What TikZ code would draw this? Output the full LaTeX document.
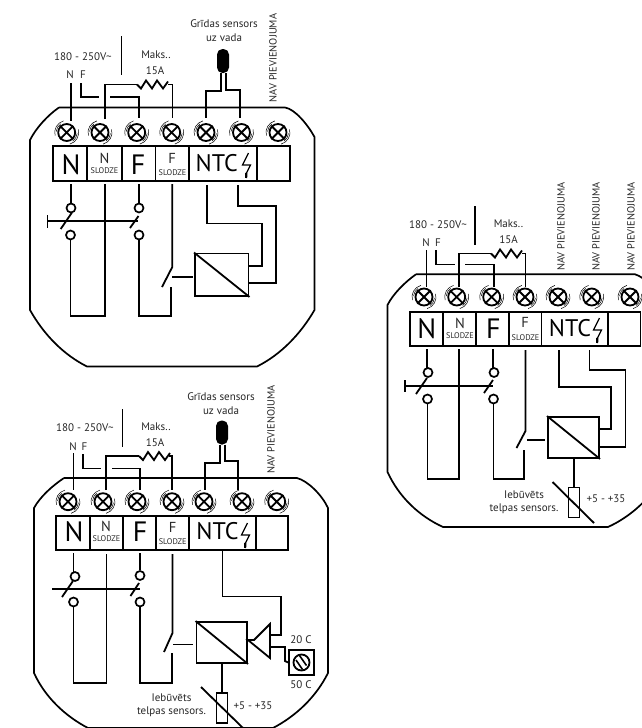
\documentclass[tikz,border=0pt]{standalone}
\usepackage{fontspec}
\setmainfont{PT Sans}
\tikzset{
  wire/.style={line width=1.8pt,line join=miter},
  shell/.style={line width=1.7pt},
  txt/.style={inner sep=0pt,font=\fontsize{11}{13}\selectfont,text=black!85},
  navtxt/.style={inner sep=0pt,rotate=90,font=\fontsize{10.4}{12}\selectfont,text=black!85},
  bigl/.style={inner sep=0pt,font=\fontsize{28}{30}\selectfont},
  ntcl/.style={inner sep=0pt,font=\fontsize{24}{26}\selectfont},
  midl/.style={inner sep=0pt,font=\fontsize{14.5}{16}\selectfont,text=black!85},
  sll/.style={inner sep=0pt,font=\fontsize{8.2}{10}\selectfont,text=black!85},
  screwn/.style={circle,draw,line width=1.8pt,minimum size=17pt,inner sep=0pt},
  contact/.style={circle,draw,line width=1.7pt,minimum size=9pt,inner sep=0pt},
  relay/.style={draw,line width=1.9pt,inner sep=0pt},
  capsule/.style={fill=black,rounded corners=5.5pt,minimum width=12pt,minimum height=24pt,inner sep=0pt},
  sens/.style={draw,line width=1.9pt,fill=white,inner sep=0pt,minimum width=11pt,minimum height=30pt}
}
\newcommand{\screwat}[3]{%
  \node[screwn] (#1) at (#2,#3) {};
  \draw[line width=1.8pt] (#1.45)--(#1.225) (#1.135)--(#1.315);
  \draw[line width=.5pt] (#1.center) ++(105:12pt) arc[start angle=105,end angle=195,radius=12pt];
  \draw[line width=.5pt] (#1.center) ++(285:12pt) arc[start angle=285,end angle=375,radius=12pt];
  \draw[line width=.5pt] (#1.center) ++(125:10.5pt) arc[start angle=125,end angle=175,radius=10.5pt];
  \draw[line width=.5pt] (#1.center) ++(305:10.5pt) arc[start angle=305,end angle=355,radius=10.5pt];
}
\newcommand{\bolt}[2]{%
  \draw[line width=1.2pt] (#1+3,#2) -- (#1-3,#2+12) -- (#1+5,#2+12) -- (#1+.5,#2+21);
  \draw[line width=2.2pt] (#1+.8,#2+20) -- (#1+.6,#2+25);
}
\newcommand{\zigzag}[2]{%
  \draw[wire] (#1,#2) -- (#1+4,#2+4) -- (#1+9,#2-4) -- (#1+15,#2+4) -- (#1+20,#2-4) -- (#1+26,#2+4) -- (#1+31,#2-3);
}
\begin{document}
\begin{tikzpicture}[x=1pt,y=-1pt]
\useasboundingbox (0,0) rectangle (642,728);
\clip (0,0) rectangle (642,728);

%% ---------- UNIT 1 ----------
\draw[shell] (59,107.5) -- (285,107.5) .. controls (295,109) and (308,125) .. (314.5,137) -- (314.5,310)
  .. controls (300,335) and (280,355) .. (257,366.5) -- (87,366.5)
  .. controls (64,355) and (44,335) .. (30,310) -- (30,140) .. controls (36,128) and (48,115) .. (59,107.5);
\screwat{a1}{66.7}{132.5}\screwat{a2}{100}{132.5}\screwat{a3}{136.7}{132.5}\screwat{a4}{171.7}{132.5}
\screwat{a5}{206}{132.5}\screwat{a6}{241.5}{132.5}\screwat{a7}{278}{132.5}
\draw[wire] (53,146) rectangle (290,181);
\foreach \x in {87,122,155.5,189,257} \draw[wire] (\x,146) -- (\x,181);
\node[bigl] (aN) at (71,164.5) {N};
\node[midl] (aNs) at (104.5,158) {N};
\node[sll] (aNss) at (104.5,170.5) {SLODZE};
\node[bigl] (aF) at (138,164.5) {F};
\node[midl] (aFs) at (172,158) {F};
\node[sll] (aFss) at (172.5,173) {SLODZE};
\node[ntcl] (aT) at (216.7,163) {NTC};
\bolt{245.5}{153}
\node[txt] (a180) at (83,57) {180 - 250V\textasciitilde};
\node[txt] (aln) at (70,75) {N};
\node[txt] (alf) at (83,75) {F};
\node[txt] (amax) at (156,55) {Maks..};
\node[txt] (a15) at (155,71) {15A};
\node[txt] (agr) at (224,24) {Grīdas sensors};
\node[txt] (auz) at (224,38) {uz vada};
\node[navtxt] (anav) at (273,58) {NAV PIEVIENOJUMA};
\node[capsule] (acap) at (223,61) {};
\draw[wire] (121.5,36) -- (121.5,75);
\draw[wire] (71,83) -- (71,121);
\draw[wire] (81,83) -- (81,97) -- (99,97);
\draw[wire] (110,97) -- (139,97) -- (139,118);
\draw[wire] (105,119) -- (105,84.5) -- (137,84.5);
\zigzag{137}{84.5}
\draw[wire] (168,84.5) -- (172.5,84.5) -- (172.5,118);
\draw[wire] ([xshift=-2pt]acap.south) -- (221,91) -- (206,91) -- (206,118);
\draw[wire] ([xshift=3pt]acap.south) -- (226,90) -- (240,90) -- (240,118);
\node[contact] (ac1) at (71,208) {};
\node[contact] (ac2) at (70.5,235) {};
\node[contact] (ac3) at (139,208) {};
\node[contact] (ac4) at (139,235) {};
\draw[wire] (71,184) -- (ac1.north);
\draw[wire] (139,184) -- (ac3.north);
\draw[wire] (ac2.south) -- (70.5,316) -- (105,316) -- (105,184);
\draw[wire] (ac4.south) -- (139,316) -- (171,316) -- (171,287);
\draw[wire] (60.7,229) -- (72,212.5);
\draw[wire] (130,228) -- (138.5,216);
\draw[wire] (47.5,215) -- (47.5,228);
\draw[wire] (47.5,221) -- (138,221);
\draw[wire] (172.3,184) -- (172.3,267) -- (162,287);
\draw[wire] (172,277) -- (193,277);
\node[relay,minimum width=53.5pt,minimum height=42.5pt] (arel) at (221.75,274.75) {};
\draw[wire] (arel.north west) -- (arel.south east);
\draw[wire] (207,185) -- (207,223.5) -- (262,223.5) -- (262,266) -- (arel.east |- 0,266);
\draw[wire] (238,185) -- (238,206) -- (276,206) -- (276,283) -- (arel.east |- 0,283);

%% ---------- UNIT 2 ----------
\draw[shell] (64,478) -- (297,478) .. controls (308,481) and (322,495) .. (328,508) -- (328,673)
  .. controls (316,697) and (296,716) .. (273,728) -- (88,728)
  .. controls (65,716) and (45,697) .. (34,673) -- (34,508) .. controls (40,497) and (52,486) .. (64,478);
\screwat{b1}{68}{501.7}\screwat{b2}{103}{501.7}\screwat{b3}{137}{501.7}\screwat{b4}{172}{501.7}
\screwat{b5}{204}{501.7}\screwat{b6}{242}{501.7}\screwat{b7}{276.7}{501.7}
\draw[wire] (56,516) rectangle (288,550);
\foreach \x in {90,122.7,156,189,256} \draw[wire] (\x,516) -- (\x,550);
\node[bigl] (bN) at (74,532) {N};
\node[midl] (bNs) at (106,526.7) {N};
\node[sll] (bNss) at (106.5,539) {SLODZE};
\node[bigl] (bF) at (140,532) {F};
\node[midl] (bFs) at (172.7,527.5) {F};
\node[sll] (bFss) at (172.7,541.7) {SLODZE};
\node[ntcl] (bT) at (217.5,531) {NTC};
\bolt{244.5}{523}
\node[txt] (b180) at (85,428) {180 - 250V\textasciitilde};
\node[txt] (bln) at (73,447) {N};
\node[txt] (blf) at (84.5,447) {F};
\node[txt] (bmax) at (156,427) {Maks..};
\node[txt] (b15) at (155,443) {15A};
\node[txt] (bgr) at (221,397) {Grīdas sensors};
\node[txt] (buz) at (221,411) {uz vada};
\node[navtxt] (bnav) at (271,429.5) {NAV PIEVIENOJUMA};
\node[capsule] (bcap) at (222,432.5) {};
\draw[wire] (122.5,409) -- (122.5,447);
\draw[wire] (73.5,453) -- (73.5,490);
\draw[wire] (83,454) -- (83,468.5) -- (101,468.5);
\draw[wire] (112,468.5) -- (140,468.5) -- (140,490);
\draw[wire] (106,490) -- (106,456) -- (139,456);
\zigzag{139}{456}
\draw[wire] (169,456) -- (172,456) -- (172,490);
\draw[wire] ([xshift=-2pt]bcap.south) -- (220,463) -- (205,463) -- (205,490);
\draw[wire] ([xshift=3pt]bcap.south) -- (225,461) -- (238,461) -- (238,490);
\node[contact] (bc1) at (75,576.5) {};
\node[contact] (bc2) at (73.5,602) {};
\node[contact] (bc3) at (140,575.5) {};
\node[contact] (bc4) at (140,602) {};
\draw[wire] (73.5,553) -- (73.5,572);
\draw[wire] (140,553) -- (bc3.north);
\draw[wire] (bc2.south) -- (73.5,683) -- (106.5,683) -- (106.5,554);
\draw[wire] (bc4.south) -- (140,683) -- (172,683) -- (172,653);
\draw[wire] (62,597) -- (73,581);
\draw[wire] (130.5,596) -- (139,583);
\draw[wire] (52,589) -- (140,589);
\draw[wire] (172.5,554) -- (172.5,633) -- (164,652);
\draw[wire] (173,644.5) -- (192.5,644.5);
\node[relay,minimum width=50.5pt,minimum height=41pt] (brel) at (221.75,642.5) {};
\draw[wire] (brel.north west) -- (brel.south east);
\coordinate (btip) at (254,640);
\draw[wire] (brel.east |- btip) -- (btip) -- (270,624) -- (270,658) -- cycle;
\draw[wire] (222.5,550) -- (222.5,596.5) -- (281,596.5) -- (281,635) -- (270,635);
\node[draw,line width=1.9pt,minimum size=25pt,inner sep=0pt] (bknob) at (301.5,662.5) {};
\node[circle,draw,line width=1.8pt,minimum size=16pt,inner sep=0pt] (bdial) at (bknob) {};
\draw[line width=1.6pt] ([shift={(-5.5pt,2.5pt)}]bdial.center) -- ([shift={(1pt,-7pt)}]bdial.center)
  ([shift={(-2pt,7pt)}]bdial.center) -- ([shift={(5pt,-3pt)}]bdial.center);
\draw[wire] (270,647) -- (285,647) -- (285,661) -- (bknob.west);
\node[txt] (b20) at (301,640) {20 C};
\node[txt] (b50) at (301,685) {50 C};
\node[sens] (bsens) at (222,708) {};
\draw[wire] (brel.south -| bsens) -- (bsens.north);
\draw[wire] (201,687) -- (243,728);
\node[txt] (bieb) at (171.5,698) {Iebūvēts};
\node[txt] (btel) at (171.5,712) {telpas sensors.};
\node[txt] (bpm) at (253,706) {+5 - +35};

%% ---------- UNIT 3 ----------
\draw[shell] (416,274.3) -- (635,274.3) .. controls (645,277) and (660,293) .. (666,305) -- (666,472)
  .. controls (652,497) and (632,516) .. (608,527) -- (443,527)
  .. controls (419,516) and (399,497) .. (387.5,472) -- (387.5,305) .. controls (393,294) and (405,282) .. (416,274.3);
\screwat{c1}{424}{297}\screwat{c2}{456.7}{297}\screwat{c3}{491.7}{297}\screwat{c4}{525}{297}
\screwat{c5}{558}{297}\screwat{c6}{591.7}{297}\screwat{c7}{630}{297}
\draw[wire] (410,312) rectangle (640.5,346);
\foreach \x in {443,476,509,541.5,608} \draw[wire] (\x,312) -- (\x,346);
\node[bigl] (cN) at (426.7,329) {N};
\node[midl] (cNs) at (460,323) {N};
\node[sll] (cNss) at (460,335.7) {SLODZE};
\node[bigl] (cF) at (493.3,329) {F};
\node[midl] (cFs) at (525,322.7) {F};
\node[sll] (cFss) at (525.5,338) {SLODZE};
\node[ntcl] (cT) at (570,328) {NTC};
\bolt{596.5}{318}
\node[txt] (c180) at (438,225) {180 - 250V\textasciitilde};
\node[txt] (cln) at (426,243) {N};
\node[txt] (clf) at (438,243) {F};
\node[txt] (cmax) at (508.5,224) {Maks..};
\node[txt] (c15) at (508.5,240) {15A};
\node[navtxt] (cnav1) at (561,226.5) {NAV PIEVIENOJUMA};
\node[navtxt] (cnav2) at (596,226.5) {NAV PIEVIENOJUMA};
\node[navtxt] (cnav3) at (631,226.5) {NAV PIEVIENOJUMA};
\draw[wire] (475,206) -- (475,245);
\draw[wire] (426.5,250) -- (426.5,287);
\draw[wire] (436,250) -- (436,264.5) -- (455,264.5);
\draw[wire] (465,264.5) -- (494,264.5) -- (494,287);
\draw[wire] (459,287) -- (459,253.5) -- (491,253.5);
\zigzag{491}{253.5}
\draw[wire] (522,253.5) -- (525.5,253.5) -- (525.5,287);
\node[contact] (cc1) at (428,372.5) {};
\node[contact] (cc2) at (427.5,399) {};
\node[contact] (cc3) at (494,372.5) {};
\node[contact] (cc4) at (493.5,399) {};
\draw[wire] (427,349) -- (427,368);
\draw[wire] (493,349) -- (493,368);
\draw[wire] (cc2.south) -- (427.5,479) -- (459,479) -- (459,349);
\draw[wire] (cc4.south) -- (493.5,479) -- (524,479) -- (524,450);
\draw[wire] (416,394) -- (427,378);
\draw[wire] (484,393) -- (493,380);
\draw[wire] (405,380) -- (405,392);
\draw[wire] (405,386) -- (493,386);
\draw[wire] (525.5,350) -- (525.5,431) -- (516.5,448);
\draw[wire] (527,440) -- (545,440);
\node[relay,minimum width=51pt,minimum height=41pt] (crel) at (573.5,437.5) {};
\draw[wire] (crel.north west) -- (crel.south east);
\draw[wire] (559,350) -- (559,387) -- (611,387) -- (611,429) -- (crel.east |- 0,429);
\draw[wire] (589.5,350) -- (589.5,370) -- (625.5,370) -- (625.5,447) -- (crel.east |- 0,447);
\node[sens] (csens) at (574,502.5) {};
\draw[wire] (crel.south -| csens) -- (csens.north);
\draw[wire] (552.5,482) -- (594,523);
\node[txt] (cieb) at (524,495) {Iebūvēts};
\node[txt] (ctel) at (524,509) {telpas sensors.};
\node[txt] (cpm) at (606,499) {+5 - +35};
\end{tikzpicture}
\end{document}
